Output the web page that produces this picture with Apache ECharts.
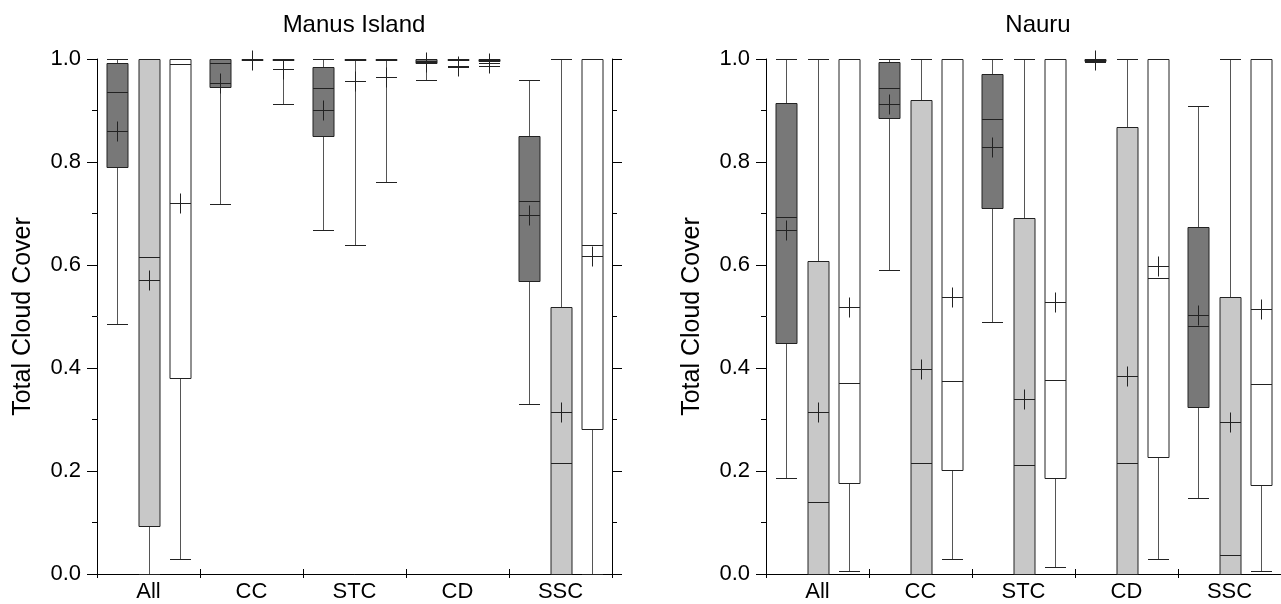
<!DOCTYPE html>
<html>
<head>
<meta charset="utf-8">
<script src="https://cdn.jsdelivr.net/npm/echarts@6/dist/echarts.min.js"></script>
<style>
html,body{margin:0;padding:0;background:#fff;}
#chart{width:1281px;height:604px;}
</style>
</head>
<body>
<div id="chart"></div>
<script>
// Categories and tick labels
const categories = ['All', 'CC', 'STC', 'CD', 'SSC'];
const yTicks = [0.0, 0.2, 0.4, 0.6, 0.8, 1.0];
const titles = ['Manus Island', 'Nauru'];

// Each row: [min, q1, median, q3, max, mean] per category
const manusDark = [
  [0.485, 0.790, 0.935, 0.992, 1.000, 0.861],
  [0.718, 0.946, 0.993, 1.000, 1.000, 0.953],
  [0.668, 0.850, 0.943, 0.984, 1.000, 0.901],
  [0.959, 0.992, 0.996, 1.000, 1.000, 0.994],
  [0.330, 0.569, 0.724, 0.851, 0.959, 0.698]
];
const manusLight = [
  [0.000, 0.094, 0.615, 1.000, 1.000, 0.571],
  [0.998, 1.000, 1.000, 1.000, 1.000, 0.999],
  [0.638, 1.000, 1.000, 1.000, 1.000, 0.957],
  [0.985, 1.000, 1.000, 1.000, 1.000, 0.986],
  [0.000, 0.000, 0.215, 0.519, 1.000, 0.315]
];
const manusWhite = [
  [0.029, 0.381, 0.990, 1.000, 1.000, 0.720],
  [0.913, 0.998, 1.000, 1.000, 1.000, 0.981],
  [0.761, 0.998, 1.000, 1.000, 1.000, 0.966],
  [0.986, 0.997, 0.999, 1.000, 1.000, 0.992],
  [0.000, 0.281, 0.638, 1.000, 1.000, 0.618]
];
const nauruDark = [
  [0.187, 0.448, 0.693, 0.915, 1.000, 0.667],
  [0.591, 0.885, 0.944, 0.994, 1.000, 0.913],
  [0.490, 0.710, 0.884, 0.970, 1.000, 0.829],
  [0.995, 0.996, 0.999, 1.000, 1.000, 0.998],
  [0.148, 0.325, 0.481, 0.673, 0.909, 0.502]
];
const nauruLight = [
  [0.000, 0.000, 0.140, 0.607, 1.000, 0.315],
  [0.000, 0.000, 0.215, 0.921, 1.000, 0.399],
  [0.000, 0.000, 0.211, 0.691, 1.000, 0.340],
  [0.000, 0.000, 0.215, 0.867, 1.000, 0.384],
  [0.000, 0.000, 0.036, 0.537, 1.000, 0.296]
];
const nauruWhite = [
  [0.006, 0.177, 0.370, 1.000, 1.000, 0.519],
  [0.030, 0.201, 0.375, 1.000, 1.000, 0.537],
  [0.013, 0.186, 0.376, 1.000, 1.000, 0.529],
  [0.029, 0.227, 0.574, 1.000, 1.000, 0.598],
  [0.005, 0.172, 0.368, 1.000, 1.000, 0.515]
];

const FONT = 'Liberation Sans, Arial, Helvetica, sans-serif';
const STROKE = '#222';
const WHISK = '#555';

function toData(arr) {
  return arr.map((r, i) => [i, r[0], r[1], r[2], r[3], r[4], r[5]]);
}

function makeRender(offsetFrac, fill) {
  return function (params, api) {
    const ci = api.value(0);
    const bw = api.size([1, 0])[0];
    const cx = Math.round(api.coord([ci, 0])[0] + offsetFrac * bw) + 0.5;
    const w = Math.round(bw * 0.204);
    const x0 = cx - w / 2, x1 = cx + w / 2;
    const Y = v => Math.round(api.coord([ci, v])[1]) + 0.5;
    const mn = api.value(1), q1 = api.value(2), md = api.value(3),
          q3 = api.value(4), mx = api.value(5), mean = api.value(6);
    const ch = [];
    const line = (xa, ya, xb, yb, color) => ch.push({
      type: 'line', shape: { x1: xa, y1: ya, x2: xb, y2: yb },
      style: { stroke: color, lineWidth: 1 }
    });
    if (mx > q3) { line(cx, Y(mx), cx, Y(q3), WHISK); line(x0, Y(mx), x1, Y(mx), STROKE); }
    if (mn < q1) { line(cx, Y(q1), cx, Y(mn), WHISK); line(x0, Y(mn), x1, Y(mn), STROKE); }
    const yt = Y(q3), yb = Y(q1);
    ch.push({
      type: 'rect', shape: { x: x0, y: yt, width: w, height: Math.max(yb - yt, 1) },
      style: { fill: fill, stroke: STROKE, lineWidth: 1 }
    });
    line(x0, Y(md), x1, Y(md), STROKE);
    const ym = Y(mean);
    line(x0, ym, x1, ym, STROKE);
    line(cx, ym - 10, cx, ym + 10, STROKE);
    return { type: 'group', children: ch };
  };
}

const groups = [
  { off: -0.301, fill: '#787878' },
  { off: 0, fill: '#c8c8c8' },
  { off: 0.301, fill: '#ffffff' }
];
const panelData = [
  [manusDark, manusLight, manusWhite],
  [nauruDark, nauruLight, nauruWhite]
];

const grids = [
  { left: 97, width: 515, top: 59, bottom: 30 },
  { left: 766, width: 515, top: 59, bottom: 30 }
];

const xAxes = [], yAxes = [], series = [];
[0, 1].forEach(p => {
  xAxes.push({
    type: 'category', gridIndex: p, data: categories, position: 'bottom',
    boundaryGap: true,
    axisLine: { lineStyle: { color: '#000', width: 1 } },
    axisTick: { show: true, length: 4, lineStyle: { color: '#000' } },
    axisLabel: { fontSize: 22, color: '#000', fontFamily: FONT, margin: 7 },
    splitLine: { show: false }
  });
  xAxes.push({
    type: 'category', gridIndex: p, data: categories, position: 'top',
    boundaryGap: true,
    axisLine: { lineStyle: { color: '#000', width: 1 } },
    axisTick: { show: true, length: 5, lineStyle: { color: '#000' } },
    axisLabel: { show: false },
    splitLine: { show: false }
  });
  yAxes.push({
    type: 'value', gridIndex: p, min: 0, max: 1, interval: 0.2, position: 'left',
    name: 'Total Cloud Cover', nameLocation: 'middle', nameGap: 61,
    nameTextStyle: { fontSize: 25, color: '#000', fontFamily: FONT },
    axisLine: { show: true, lineStyle: { color: '#000', width: 1 } },
    axisTick: { show: true, length: 10, lineStyle: { color: '#000' } },
    minorTick: { show: true, splitNumber: 2, length: 5, lineStyle: { color: '#000' } },
    axisLabel: {
      fontSize: 22, color: '#000', fontFamily: FONT, margin: 16,
      formatter: v => {
        const t = yTicks.find(k => Math.abs(k - v) < 1e-6);
        return t === undefined ? '' : t.toFixed(1);
      }
    },
    splitLine: { show: false }
  });
  yAxes.push({
    type: 'value', gridIndex: p, min: 0, max: 1, interval: 0.2, position: 'right',
    axisLine: { show: true, lineStyle: { color: '#000', width: 1 } },
    axisTick: { show: true, length: 10, lineStyle: { color: '#000' } },
    minorTick: { show: true, splitNumber: 2, length: 5, lineStyle: { color: '#000' } },
    axisLabel: { show: false },
    splitLine: { show: false }
  });
  groups.forEach((g, gi) => {
    series.push({
      type: 'custom', xAxisIndex: p * 2, yAxisIndex: p * 2,
      renderItem: makeRender(g.off, g.fill),
      data: toData(panelData[p][gi]),
      encode: { x: 0, y: [1, 2, 3, 4, 5, 6] },
      clip: false, silent: true
    });
  });
});

const chart = echarts.init(document.getElementById('chart'), null, { renderer: 'canvas' });
chart.setOption({
  animation: false,
  backgroundColor: '#fff',
  title: [
    { text: titles[0], left: 354, top: 13, padding: 0, textAlign: 'center',
      textStyle: { fontSize: 24, fontWeight: 'normal', color: '#000', fontFamily: FONT } },
    { text: titles[1], left: 1038, top: 13, padding: 0, textAlign: 'center',
      textStyle: { fontSize: 24, fontWeight: 'normal', color: '#000', fontFamily: FONT } }
  ],
  grid: grids,
  xAxis: xAxes,
  yAxis: yAxes,
  series: series
});
</script>
</body>
</html>
